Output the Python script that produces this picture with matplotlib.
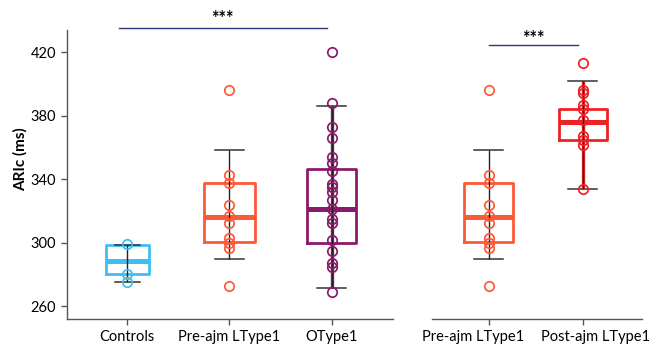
import numpy as np
import matplotlib.pyplot as plt
import matplotlib.transforms as mtransforms

plt.rcParams['font.family'] = ['Lato', 'DejaVu Sans']

# ARIc values (ms) per group
controls = [299, 280.5, 275.5]
pre_ajm = [396.5, 342.5, 337.5, 323.5, 317, 312.5, 303, 300, 297, 273]
otype1 = [420, 388, 373, 366, 354, 350.5, 345, 337, 335, 332, 327, 321.5,
          315, 312.5, 302, 295, 287.5, 285, 269]
post_ajm = [413.5, 396.5, 394.5, 386.5, 384, 377.5, 367.5, 364.5, 361.5, 334]

# box summaries: (whislo, q1, med, q3, whishi)
controls_box = (275.5, 280.4, 288.6, 298.4, 298.4)
pre_ajm_box = (289.5, 300.8, 316.2, 337.6, 358.5)
otype1_box = (271.8, 300.0, 321.4, 346.5, 386.0)
post_ajm_box = (334.0, 364.5, 376.0, 384.5, 402.0)

left_labels = ['Controls', 'Pre-ajm LType1', 'OType1']
right_labels = ['Pre-ajm LType1', 'Post-ajm LType1']
yticks = [260, 300, 340, 380, 420]

c_ctrl = '#3dbff0'
c_pre = '#fc5a35'
c_otype = '#8c1a6a'
c_post = '#ec2227'


def draw_group(ax, x, pts, box, color, width, capw, thick_stem=False):
    lo, q1, med, q3, hi = box
    st = dict(whislo=lo, q1=q1, med=med, q3=q3, whishi=hi, fliers=[])
    ax.bxp([st], positions=[x], widths=width, showfliers=False,
           boxprops=dict(color=color, lw=2.0),
           medianprops=dict(color=color, lw=3.6, solid_capstyle='butt'),
           whiskerprops=dict(lw=0),
           capprops=dict(color='#333333', lw=1.1),
           capwidths=capw, manage_ticks=False)
    if thick_stem:
        ax.vlines(x, lo, hi, color=color, lw=2.4, zorder=3)
    ax.vlines(x, lo, hi, color='#222222', lw=1.0, zorder=3)
    ax.plot([x] * len(pts), pts, 'o', ms=6.8, mfc='none', mec=color,
            mew=1.25, zorder=4)


def style(ax):
    ax.set_ylim(252, 434)
    ax.set_yticks(yticks)
    for s in ['top', 'right']:
        ax.spines[s].set_visible(False)
    for s in ['left', 'bottom']:
        ax.spines[s].set_color('#555555')
        ax.spines[s].set_linewidth(1.0)
    ax.tick_params(axis='both', length=4, width=1.0, color='#555555',
                   labelsize=10.5, pad=4)


fig = plt.figure(figsize=(6.53, 3.46), dpi=100)
ax1 = fig.add_axes([0.1026, 0.078, 0.4992, 0.8353])
ax2 = fig.add_axes([0.6616, 0.078, 0.3216, 0.8353])

draw_group(ax1, 0, controls, controls_box, c_ctrl, 0.42, 0.25)
draw_group(ax1, 1, pre_ajm, pre_ajm_box, c_pre, 0.49, 0.29)
draw_group(ax1, 2, otype1, otype1_box, c_otype, 0.48, 0.29, thick_stem=True)
ax1.set_xlim(-0.59, 2.6)
ax1.set_xticks(range(3))
ax1.set_xticklabels(left_labels)
style(ax1)

draw_group(ax2, 0, pre_ajm, pre_ajm_box, c_pre, 0.53, 0.31)
draw_group(ax2, 1, post_ajm, post_ajm_box, c_post, 0.51, 0.31, thick_stem=True)
ax2.set_xlim(-0.6, 1.63)
ax2.set_xticks(range(2))
ax2.set_xticklabels(right_labels)
style(ax2)
ax2.spines['left'].set_visible(False)
ax2.tick_params(axis='y', left=False, labelleft=False)

# spread the two right-hand labels apart so they don't collide
for lab, dx in zip(ax2.get_xticklabels(), [-15, 13]):
    off = mtransforms.ScaledTranslation(dx / 100, 0, fig.dpi_scale_trans)
    lab.set_transform(lab.get_transform() + off)

# significance bars
ax1.plot([-0.08, 1.95], [435, 435], color='#2b3a78', lw=1.0, clip_on=False)
ax1.text(0.93, 441.0, '***', ha='center', va='center', fontsize=13,
         fontweight='bold')
ax2.plot([0.01, 0.95], [424.5, 424.5], color='#2b3a78', lw=1.0, clip_on=False)
ax2.text(0.48, 428.9, '***', ha='center', va='center', fontsize=13,
         fontweight='bold')

fig.text(20 / 653, 1 - 159 / 346, 'ARIc (ms)', rotation=90, ha='center',
         va='center', fontsize=11, fontweight='bold')

fig.savefig('out.png', dpi=100)
